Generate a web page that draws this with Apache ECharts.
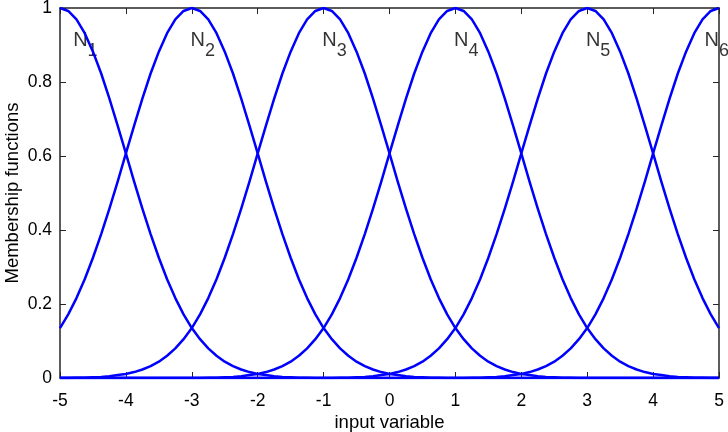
<!DOCTYPE html>
<html>
<head>
<meta charset="utf-8">
<script src="https://cdn.jsdelivr.net/npm/echarts@6/dist/echarts.min.js"></script>
<style>
  html, body { margin: 0; padding: 0; background: #fff; }
  #chart { width: 728px; height: 432px; }
</style>
</head>
<body>
<div id="chart"></div>
<script>
// x samples of the input variable (step 0.125)
const xs = [
  -5, -4.875, -4.75, -4.625, -4.5, -4.375, -4.25, -4.125,
  -4, -3.875, -3.75, -3.625, -3.5, -3.375, -3.25, -3.125,
  -3, -2.875, -2.75, -2.625, -2.5, -2.375, -2.25, -2.125,
  -2, -1.875, -1.75, -1.625, -1.5, -1.375, -1.25, -1.125,
  -1, -0.875, -0.75, -0.625, -0.5, -0.375, -0.25, -0.125,
  0, 0.125, 0.25, 0.375, 0.5, 0.625, 0.75, 0.875,
  1, 1.125, 1.25, 1.375, 1.5, 1.625, 1.75, 1.875,
  2, 2.125, 2.25, 2.375, 2.5, 2.625, 2.75, 2.875,
  3, 3.125, 3.25, 3.375, 3.5, 3.625, 3.75, 3.875,
  4, 4.125, 4.25, 4.375, 4.5, 4.625, 4.75, 4.875,
  5
]

// membership values, one array per function
const n1 = [
  1, 0.992, 0.969, 0.932, 0.882, 0.823, 0.755, 0.682, 0.607, 0.531, 0.458, 0.389, 0.325, 0.267, 0.216,
  0.172, 0.135, 0.105, 0.080, 0.060, 0.044, 0.032, 0.023, 0.016, 0.011, 0.008, 0.005, 0.003, 0.002, 0.001, 0.001,
  0, 0, 0, 0, 0, 0, 0, 0, 0, 0,
  0, 0, 0, 0, 0, 0, 0, 0, 0, 0,
  0, 0, 0, 0, 0, 0, 0, 0, 0, 0,
  0, 0, 0, 0, 0, 0, 0, 0, 0, 0,
  0, 0, 0, 0, 0, 0, 0, 0, 0, 0
]
const n2 = [
  0.135, 0.172, 0.216, 0.267, 0.325, 0.389, 0.458, 0.531, 0.607, 0.682, 0.755, 0.823, 0.882, 0.932, 0.969, 0.992,
  1, 0.992, 0.969, 0.932, 0.882, 0.823, 0.755, 0.682, 0.607, 0.531, 0.458, 0.389, 0.325, 0.267, 0.216,
  0.172, 0.135, 0.105, 0.080, 0.060, 0.044, 0.032, 0.023, 0.016, 0.011, 0.008, 0.005, 0.003, 0.002, 0.001, 0.001,
  0, 0, 0, 0, 0, 0, 0, 0, 0, 0,
  0, 0, 0, 0, 0, 0, 0, 0, 0, 0,
  0, 0, 0, 0, 0, 0, 0, 0, 0, 0,
  0, 0, 0, 0
]
const n3 = [
  0, 0,
  0.001, 0.001, 0.002, 0.003, 0.005, 0.008, 0.011, 0.016, 0.023, 0.032, 0.044, 0.060, 0.080, 0.105, 0.135,
  0.172, 0.216, 0.267, 0.325, 0.389, 0.458, 0.531, 0.607, 0.682, 0.755, 0.823, 0.882, 0.932, 0.969, 0.992,
  1, 0.992, 0.969, 0.932, 0.882, 0.823, 0.755, 0.682, 0.607, 0.531, 0.458, 0.389, 0.325, 0.267, 0.216,
  0.172, 0.135, 0.105, 0.080, 0.060, 0.044, 0.032, 0.023, 0.016, 0.011, 0.008, 0.005, 0.003, 0.002, 0.001, 0.001,
  0, 0, 0, 0, 0, 0, 0, 0, 0, 0,
  0, 0, 0, 0, 0, 0, 0, 0
]
const n4 = [
  0, 0, 0, 0, 0, 0, 0, 0, 0, 0,
  0, 0, 0, 0, 0, 0, 0, 0,
  0.001, 0.001, 0.002, 0.003, 0.005, 0.008, 0.011, 0.016, 0.023, 0.032, 0.044, 0.060, 0.080, 0.105, 0.135,
  0.172, 0.216, 0.267, 0.325, 0.389, 0.458, 0.531, 0.607, 0.682, 0.755, 0.823, 0.882, 0.932, 0.969, 0.992,
  1, 0.992, 0.969, 0.932, 0.882, 0.823, 0.755, 0.682, 0.607, 0.531, 0.458, 0.389, 0.325, 0.267, 0.216,
  0.172, 0.135, 0.105, 0.080, 0.060, 0.044, 0.032, 0.023, 0.016, 0.011, 0.008, 0.005, 0.003, 0.002, 0.001, 0.001,
  0, 0
]
const n5 = [
  0, 0, 0, 0, 0, 0, 0, 0, 0, 0,
  0, 0, 0, 0, 0, 0, 0, 0, 0, 0,
  0, 0, 0, 0, 0, 0, 0, 0, 0, 0,
  0, 0, 0, 0,
  0.001, 0.001, 0.002, 0.003, 0.005, 0.008, 0.011, 0.016, 0.023, 0.032, 0.044, 0.060, 0.080, 0.105, 0.135,
  0.172, 0.216, 0.267, 0.325, 0.389, 0.458, 0.531, 0.607, 0.682, 0.755, 0.823, 0.882, 0.932, 0.969, 0.992,
  1, 0.992, 0.969, 0.932, 0.882, 0.823, 0.755, 0.682, 0.607, 0.531, 0.458, 0.389, 0.325, 0.267, 0.216,
  0.172, 0.135
]
const n6 = [
  0, 0, 0, 0, 0, 0, 0, 0, 0, 0,
  0, 0, 0, 0, 0, 0, 0, 0, 0, 0,
  0, 0, 0, 0, 0, 0, 0, 0, 0, 0,
  0, 0, 0, 0, 0, 0, 0, 0, 0, 0,
  0, 0, 0, 0, 0, 0, 0, 0, 0, 0,
  0.001, 0.001, 0.002, 0.003, 0.005, 0.008, 0.011, 0.016, 0.023, 0.032, 0.044, 0.060, 0.080, 0.105, 0.135,
  0.172, 0.216, 0.267, 0.325, 0.389, 0.458, 0.531, 0.607, 0.682, 0.755, 0.823, 0.882, 0.932, 0.969, 0.992,
  1
]

// curve labels
const labelSubs = ['1', '2', '3', '4', '5', '6']
const labelX = [-4.8, -3.02, -1.02, 0.98, 2.98, 4.78]
const labelY = [0.9, 0.9, 0.9, 0.9, 0.9, 0.9]

const font = 'Liberation Sans, Arial, sans-serif'
const blue = '#0000ff'

const curves = [n1, n2, n3, n4, n5, n6].map(function (ys) {
  return {
    type: 'line',
    smooth: false,
    showSymbol: false,
    silent: true,
    lineStyle: { color: blue, width: 2.5, join: 'round' },
    data: ys.map(function (y, i) { return [xs[i], y] })
  }
})

const labels = {
  type: 'scatter',
  symbolSize: 0,
  silent: true,
  data: labelSubs.map(function (s, i) { return [labelX[i], labelY[i], s] }),
  label: {
    show: true,
    position: 'right',
    distance: 0,
    formatter: function (p) { return '{n|N}{s|' + p.data[2] + '}' },
    rich: {
      n: { fontFamily: font, fontSize: 20, color: '#000', verticalAlign: 'top', lineHeight: 30 },
      s: { fontFamily: font, fontSize: 18, color: '#000', verticalAlign: 'bottom', lineHeight: 30 }
    }
  }
}

const chart = echarts.init(document.getElementById('chart'))

const tickStyle = { inside: true, length: 6, lineStyle: { color: '#262626', width: 1 } }
const lineStyle = { onZero: false, lineStyle: { color: '#262626', width: 1.5 } }

chart.setOption({
  animation: false,
  grid: { left: 60, right: 9, top: 8, bottom: 54, outerBoundsMode: 'none', containLabel: false },
  xAxis: [{
    type: 'value',
    min: -5,
    max: 5,
    interval: 1,
    name: 'input variable',
    nameLocation: 'middle',
    nameGap: 35,
    nameMoveOverlap: false,
    nameTextStyle: { fontFamily: font, fontSize: 18.5, color: '#000' },
    axisLine: lineStyle,
    axisTick: tickStyle,
    splitLine: { show: false },
    axisLabel: { fontFamily: font, fontSize: 17.5, color: '#000', margin: 14 }
  }, {
    type: 'value',
    position: 'top',
    min: -5,
    max: 5,
    interval: 1,
    axisLine: lineStyle,
    axisTick: tickStyle,
    splitLine: { show: false },
    axisLabel: { show: false }
  }],
  yAxis: [{
    type: 'value',
    min: 0,
    max: 1,
    interval: 0.2,
    name: 'Membership functions',
    nameLocation: 'middle',
    nameGap: 38,
    nameMoveOverlap: false,
    nameTextStyle: { fontFamily: font, fontSize: 18.5, color: '#000' },
    axisLine: lineStyle,
    axisTick: tickStyle,
    splitLine: { show: false },
    axisLabel: { fontFamily: font, fontSize: 17.5, color: '#000', margin: 8 }
  }, {
    type: 'value',
    position: 'right',
    min: 0,
    max: 1,
    interval: 0.2,
    axisLine: lineStyle,
    axisTick: tickStyle,
    splitLine: { show: false },
    axisLabel: { show: false }
  }],
  series: curves.concat([labels])
})
</script>
</body>
</html>
